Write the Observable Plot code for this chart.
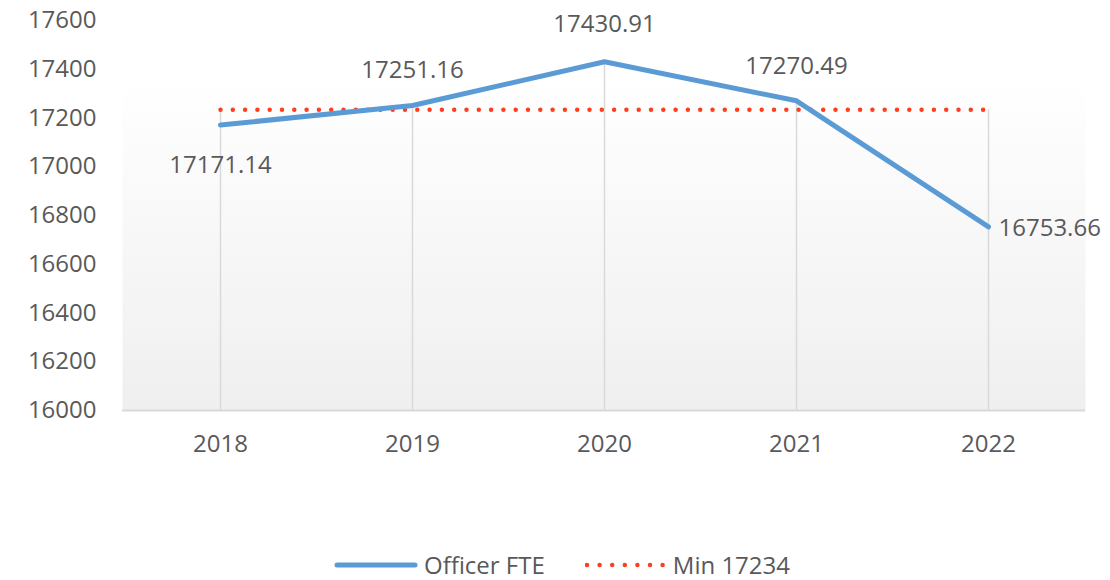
<!DOCTYPE html>
<html>
<head>
<meta charset="utf-8">
<script src="https://cdn.jsdelivr.net/npm/d3@7"></script>
<script src="https://cdn.jsdelivr.net/npm/@observablehq/plot@0.6"></script>
<style>
  body { margin: 0; background: #fff; font-family: "Open Sans", sans-serif; }
  #wrap { position: relative; width: 1110px; height: 580px; }
  #legend { position: absolute; top: 548px; left: 0; width: 1110px; display: flex; justify-content: center; align-items: center; padding-left: 14px; box-sizing: border-box; font-size: 24px; color: #595959; }
  #legend .item { display: flex; align-items: center; }
  #legend svg { display: block; }
</style>
</head>
<body>
<div id="wrap"><div id="chart"></div><div id="legend"></div></div>
<script>
const years = ["2018", "2019", "2020", "2021", "2022"];
const officerFTE = [17171.14, 17251.16, 17430.91, 17270.49, 16753.66];
const minValue = 17234;
const yTicks = [16000, 16200, 16400, 16600, 16800, 17000, 17200, 17400, 17600];
const seriesNames = ["Officer FTE", "Min 17234"];

const data = years.map((year, i) => ({year, value: officerFTE[i], min: minValue}));

const BLUE = "#5b9bd5";
const RED = "#ff3d1f";
const GREY_TEXT = "#595959";

const defs = () => {
  const ns = "http://www.w3.org/2000/svg";
  const d = document.createElementNS(ns, "defs");
  const g = document.createElementNS(ns, "linearGradient");
  g.setAttribute("id", "bg");
  g.setAttribute("x1", "0"); g.setAttribute("y1", "0");
  g.setAttribute("x2", "0"); g.setAttribute("y2", "1");
  [["0", "#ffffff"], ["0.15", "#ffffff"], ["1", "#efefef"]].forEach(([o, c]) => {
    const s = document.createElementNS(ns, "stop");
    s.setAttribute("offset", o); s.setAttribute("stop-color", c);
    g.appendChild(s);
  });
  d.appendChild(g);
  return d;
};

const labelStyle = {fill: GREY_TEXT, fontSize: 24, fontFamily: "Open Sans", lineAnchor: "middle"};
const fmt = d => d.value.toFixed(2);

const chart = Plot.plot({
  width: 1110,
  height: 480,
  marginLeft: 122,
  marginRight: 25,
  marginTop: 20,
  marginBottom: 70,
  style: {fontFamily: "Open Sans", fontSize: "24px", color: GREY_TEXT, background: "#fff"},
  x: {type: "point", domain: years, padding: 0.5, label: null},
  y: {domain: [16000, 17600], ticks: yTicks, label: null},
  marks: [
    defs,
    Plot.frame({fill: "url(#bg)", stroke: "none"}),
    Plot.ruleX(data, {x: "year", y1: 16000, y2: d => Math.max(d.value, d.min), stroke: "#d9d9d9", strokeWidth: 1.5}),
    Plot.ruleY([16000], {stroke: "#d9d9d9", strokeWidth: 2}),
    Plot.axisY({ticks: yTicks, tickSize: 0, tickPadding: 26, tickFormat: d => String(d), fill: GREY_TEXT, fontSize: 24, label: null}),
    Plot.axisX({tickSize: 0, tickPadding: 24, fill: GREY_TEXT, fontSize: 24, label: null}),
    Plot.line(data, {x: "year", y: "min", stroke: RED, strokeWidth: 4.5, strokeDasharray: "0 12.3", strokeLinecap: "round"}),
    Plot.line(data, {x: "year", y: "value", stroke: BLUE, strokeWidth: 5, strokeLinejoin: "round", strokeLinecap: "round"}),
    Plot.text(data.filter(d => d.year === "2018"), {x: "year", y: "value", text: fmt, dy: 40, ...labelStyle}),
    Plot.text(data.filter(d => d.year === "2019" || d.year === "2021"), {x: "year", y: "value", text: fmt, dy: -35, ...labelStyle}),
    Plot.text(data.filter(d => d.year === "2020"), {x: "year", y: "value", text: fmt, dy: -37, ...labelStyle}),
    Plot.text(data.filter(d => d.year === "2022"), {x: "year", y: "value", text: fmt, dx: 10, dy: 2, textAnchor: "start", ...labelStyle})
  ]
});
document.getElementById("chart").appendChild(chart);

// Legend
const legend = d3.select("#legend");
const i1 = legend.append("div").attr("class", "item");
const s1 = i1.append("svg").attr("width", 84).attr("height", 12);
s1.append("line").attr("x1", 3).attr("x2", 81).attr("y1", 6).attr("y2", 6)
  .attr("stroke", BLUE).attr("stroke-width", 5).attr("stroke-linecap", "round");
i1.append("span").style("margin-left", "6px").text(seriesNames[0]);
const i2 = legend.append("div").attr("class", "item").style("margin-left", "40px");
const s2 = i2.append("svg").attr("width", 80).attr("height", 12);
s2.append("line").attr("x1", 2).attr("x2", 78).attr("y1", 6).attr("y2", 6)
  .attr("stroke", RED).attr("stroke-width", 4.5).attr("stroke-dasharray", "0 12.6").attr("stroke-linecap", "round");
i2.append("span").style("margin-left", "8px").text(seriesNames[1]);
</script>
</body>
</html>
